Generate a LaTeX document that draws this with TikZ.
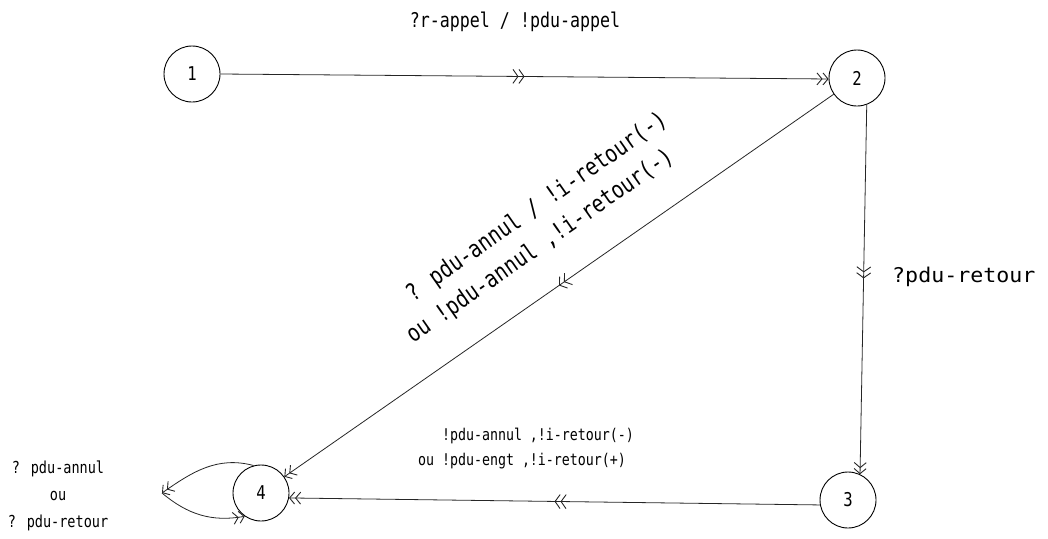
\documentclass[tikz,border=0pt]{standalone}
\usepackage{fontspec}
\newfontfamily\tw{DejaVu Sans Mono}[FakeStretch=0.82]
\usetikzlibrary{arrows.meta,decorations.markings}
\tikzset{
  state/.style={circle,draw,line width=0.9pt,minimum size=56pt,inner sep=0pt,font=\tw\fontsize{19}{20}\selectfont},
  edge/.style={line width=0.8pt,draw=black!85},
  tip/.style={-{Straight Barb[length=5pt,width=12pt,line width=0.9pt]Straight Barb[length=5pt,width=12pt,line width=0.9pt]}},
  midarrow/.style={postaction={decorate},decoration={markings,
     mark=at position #1 with {\arrow{Straight Barb[length=5pt,width=14pt,line width=0.9pt]Straight Barb[length=5pt,width=14pt,line width=0.9pt]}}}},
  lbltop/.style={font=\tw\fontsize{20.3}{26}\selectfont,inner sep=1pt},
  lbldiag/.style={font=\tw\fontsize{24}{34}\selectfont,inner sep=1pt,rotate=35,align=left},
  lblbot/.style={font=\tw\fontsize{16.2}{25}\selectfont,inner sep=1pt},
  lblleft/.style={font=\tw\fontsize{16.5}{27}\selectfont,inner sep=1pt}
}
\begin{document}
\begin{tikzpicture}[x=1pt,y=-1pt]
\useasboundingbox (0,0) rectangle (1048,538);
\node[state] (n1) at (192,74) {1};
\node[state] (n2) at (857,78) {2};
\node[state] (n3) at (848,500) {3};
\node[state] (n4) at (261,493) {4};

\draw[edge,tip,midarrow=0.5] (n1.east) -- (n2.182);
\draw[edge,tip,midarrow=0.47] (n2.-70) -- (n3.65);
\draw[edge,tip,midarrow=0.5] (n3.190) -- (n4.-10);
\draw[edge,tip,midarrow=0.5] (n2) -- (n4);

\coordinate (lt) at (162,493);
\draw[edge,tip] (n4.105) to[out=165,in=35] (lt);
\draw[edge,tip] (lt) to[out=-40,in=190] (n4.235);

\node[lbltop] (l12) at (515,22) {?r-appel / !pdu-appel};
\node[lbltop,anchor=west] (l23) at (891,277) {\scalebox{1.3}[1]{?pdu-retour}};
\node[lbldiag] (l24) at (537,228) {\phantom{ou}? pdu-annul / !i-retour(-)\\ou !pdu-annul ,!i-retour(-)};
\node[lblbot,align=left] (l34) at (526,449) {\phantom{ou }!pdu-annul ,!i-retour(-)\\ou !pdu-engt ,!i-retour(+)};
\node[lblleft,align=center] (l44) at (58,496) {? pdu-annul\\ou\\? pdu-retour};
\end{tikzpicture}
\end{document}
